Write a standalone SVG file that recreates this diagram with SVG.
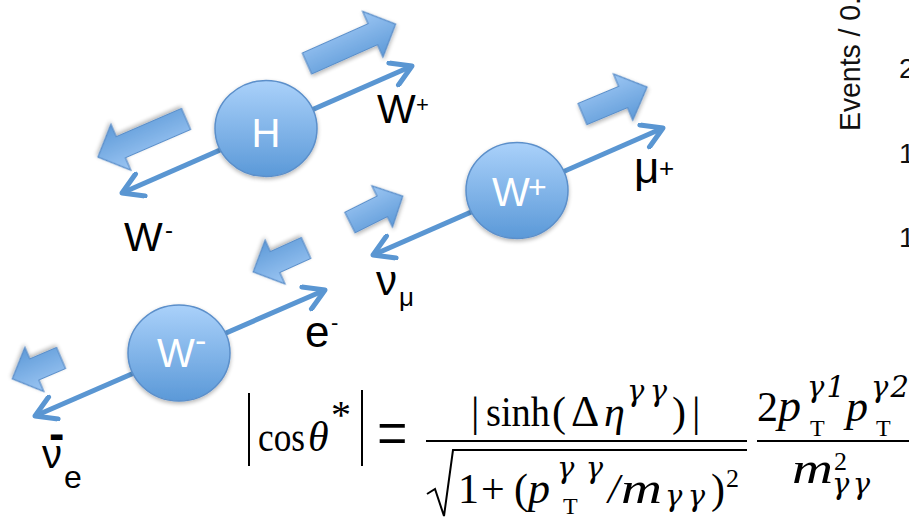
<svg xmlns="http://www.w3.org/2000/svg" width="909" height="520" viewBox="0 0 909 520">
<defs>
<linearGradient id="gCirc" x1="0" y1="0" x2="0" y2="1">
<stop offset="0" stop-color="#aad1fa"/>
<stop offset="1" stop-color="#5b99d8"/>
</linearGradient>
<linearGradient id="gBlk" x1="0" y1="0" x2="0" y2="1">
<stop offset="0" stop-color="#9cc6f3"/>
<stop offset="1" stop-color="#5e9ad8"/>
</linearGradient>
<filter id="sh" x="-20%" y="-20%" width="140%" height="150%">
<feGaussianBlur in="SourceAlpha" stdDeviation="2"/>
<feOffset dx="0" dy="2" result="b"/>
<feComponentTransfer><feFuncA type="linear" slope="0.3"/></feComponentTransfer>
<feMerge><feMergeNode/><feMergeNode in="SourceGraphic"/></feMerge>
</filter>
<marker id="chev" viewBox="-24 -14 28 28" markerWidth="28" markerHeight="28" refX="0" refY="0" orient="auto-start-reverse" markerUnits="userSpaceOnUse">
<path d="M-20,-12 L0,0 L-20,12" fill="none" stroke="#5a96d2" stroke-width="5" stroke-linecap="round" stroke-linejoin="round"/>
</marker>
</defs>
<style>
.ln{stroke:#5a96d2;stroke-width:5;fill:none;marker-start:url(#chev);marker-end:url(#chev)}
.blk{fill:url(#gBlk);stroke:#5a8ec9;stroke-width:1.2;filter:url(#sh)}
.nd{fill:url(#gCirc);stroke:#5b8fca;stroke-width:1.5;filter:url(#sh)}
.wt{font-family:"Liberation Sans",Arial,sans-serif;fill:#ffffff}
.lb{font-family:"Liberation Sans",Arial,sans-serif;fill:#000000}
.m{font-family:"Liberation Serif","Times New Roman",serif;fill:#000}
.mi{font-style:italic}
.g{font-family:"DejaVu Serif",serif;font-style:italic;fill:#000}
.bar{stroke:#000;fill:none}
.ax{font-family:"Liberation Sans",Arial,sans-serif;fill:#111}
</style>
<rect width="909" height="520" fill="#ffffff"/>

<g id="connectors">
<line class="ln" x1="122" y1="193" x2="412" y2="66"/>
<line class="ln" x1="373" y1="255" x2="663" y2="128"/>
<line class="ln" x1="35" y1="416" x2="325" y2="290"/>
<path class="blk" transform="translate(307,63.5) rotate(-24)" d="M0,-11.5 H72 V-25 L97,0 L72,25 V11.5 H0 Z"/>
<path class="blk" transform="translate(186,119) rotate(156.6)" d="M0,-11.5 H71 V-25 L96,0 L71,25 V11.5 H0 Z"/>
<path class="blk" transform="translate(582.5,114) rotate(-22.7)" d="M0,-11.5 H44 V-25 L70,0 L44,25 V11.5 H0 Z"/>
<path class="blk" transform="translate(350,222.5) rotate(-26.6)" d="M0,-11.5 H36 V-23 L59,0 L36,23 V11.5 H0 Z"/>
<path class="blk" transform="translate(306,248) rotate(155.6)" d="M0,-11.5 H34 V-24 L58,0 L34,24 V11.5 H0 Z"/>
<path class="blk" transform="translate(61,358) rotate(156.8)" d="M0,-11.5 H29 V-24 L53,0 L29,24 V11.5 H0 Z"/>
</g>

<g id="node-H">
<ellipse class="nd" cx="266" cy="128.5" rx="51" ry="48"/>
<text class="wt" x="266" y="147" font-size="40" text-anchor="middle">H</text>
</g>
<g id="node-Wplus">
<ellipse class="nd" cx="517" cy="190.5" rx="51" ry="48"/>
<text class="wt" x="492" y="206" font-size="40">W</text>
<text class="wt" x="528" y="198" font-size="32">+</text>
</g>
<g id="node-Wminus">
<ellipse class="nd" cx="179" cy="353" rx="51" ry="48"/>
<text class="wt" x="157" y="367" font-size="40">W</text>
<text class="wt" x="195" y="352" font-size="34">-</text>
</g>

<g id="labels">
<text class="lb" x="377" y="123" font-size="41">W</text>
<text class="lb" x="416" y="112" font-size="22">+</text>
<text class="lb" x="124" y="251" font-size="41">W</text>
<text class="lb" x="165" y="238" font-size="24">-</text>
<text class="lb" x="634" y="183" font-size="44">μ</text>
<text class="lb" x="659" y="177" font-size="26">+</text>
<text class="lb" x="376" y="295" font-size="42">ν</text>
<text class="lb" x="399" y="306" font-size="26">μ</text>
<text class="lb" x="305" y="347" font-size="44">e</text>
<text class="lb" x="331" y="330" font-size="22">-</text>
<text class="lb" x="49" y="449" font-size="46" font-weight="bold">-</text>
<text class="lb" x="42" y="468" font-size="40">ν</text>
<text class="lb" x="64" y="488" font-size="32">e</text>
</g>

<g id="formula">
<line class="bar" x1="249" y1="393" x2="249" y2="466" stroke-width="2"/>
<text class="m" x="258" y="451" font-size="42" textLength="47" lengthAdjust="spacingAndGlyphs">cos</text>
<text class="m mi" x="308" y="451" font-size="42">θ</text>
<text class="m" x="331" y="428" font-size="40">*</text>
<line class="bar" x1="362" y1="390" x2="362" y2="466" stroke-width="2"/>
<text class="m" x="377" y="459" font-size="40" transform="translate(377,459) scale(1.35,1.9) translate(-377,-459)">=</text>
<line class="bar" x1="426" y1="441" x2="747" y2="441" stroke-width="2.2"/>
<text class="m" x="471" y="426" font-size="42">|</text>
<text class="m" x="486" y="426" font-size="42" textLength="64" lengthAdjust="spacingAndGlyphs">sinh</text>
<text class="m" x="552" y="426" font-size="42">(</text>
<text class="m" x="571" y="426" font-size="44">Δ</text>
<text class="m mi" x="604" y="426" font-size="42">η</text>
<text class="g" x="627" y="401" font-size="29" textLength="40" lengthAdjust="spacing">γγ</text>
<text class="m" x="672" y="426" font-size="42">)</text>
<text class="m" x="692" y="426" font-size="42">|</text>
<path class="bar" d="M427,494 L435,489 L444,516 L453,450 H747" stroke-width="2"/>
<text class="m" x="458" y="503" font-size="42">1</text>
<text class="m" x="481" y="503" font-size="42">+</text>
<text class="m" x="514" y="503" font-size="42">(</text>
<text class="m mi" x="528" y="503" font-size="44">p</text>
<text class="g" x="557" y="478" font-size="29" textLength="46" lengthAdjust="spacing">γγ</text>
<text class="m" x="563" y="514" font-size="24">T</text>
<text class="m mi" x="608" y="503" font-size="42">/</text>
<text class="m mi" x="621" y="503" font-size="44" textLength="41" lengthAdjust="spacingAndGlyphs">m</text>
<text class="g" x="665" y="506" font-size="29" textLength="40" lengthAdjust="spacing">γγ</text>
<text class="m" x="711" y="503" font-size="42">)</text>
<text class="m" x="726" y="487" font-size="26">2</text>
<line class="bar" x1="757" y1="441" x2="909" y2="441" stroke-width="2.2"/>
<text class="m" x="757" y="421" font-size="42">2</text>
<text class="m mi" x="778" y="421" font-size="46">p</text>
<text class="g" x="807" y="397" font-size="29" textLength="38" lengthAdjust="spacing">γ1</text>
<text class="m" x="810" y="436" font-size="24">T</text>
<text class="m mi" x="846" y="421" font-size="44">p</text>
<text class="g" x="871" y="397" font-size="29" textLength="38" lengthAdjust="spacing">γ2</text>
<text class="m" x="876" y="436" font-size="24">T</text>
<text class="m mi" x="792" y="483" font-size="44" textLength="41" lengthAdjust="spacingAndGlyphs">m</text>
<text class="m" x="834" y="470" font-size="26">2</text>
<text class="g" x="832" y="494" font-size="29" textLength="38" lengthAdjust="spacing">γγ</text>
</g>

<g id="axis">
<text class="ax" font-size="29" transform="translate(860,131) rotate(-90)" textLength="134" lengthAdjust="spacingAndGlyphs">Events / 0.</text>
<text class="ax" x="899" y="78" font-size="28">2</text>
<text class="ax" x="899" y="163" font-size="28">1</text>
<text class="ax" x="899" y="247" font-size="28">1</text>
</g>
</svg>
